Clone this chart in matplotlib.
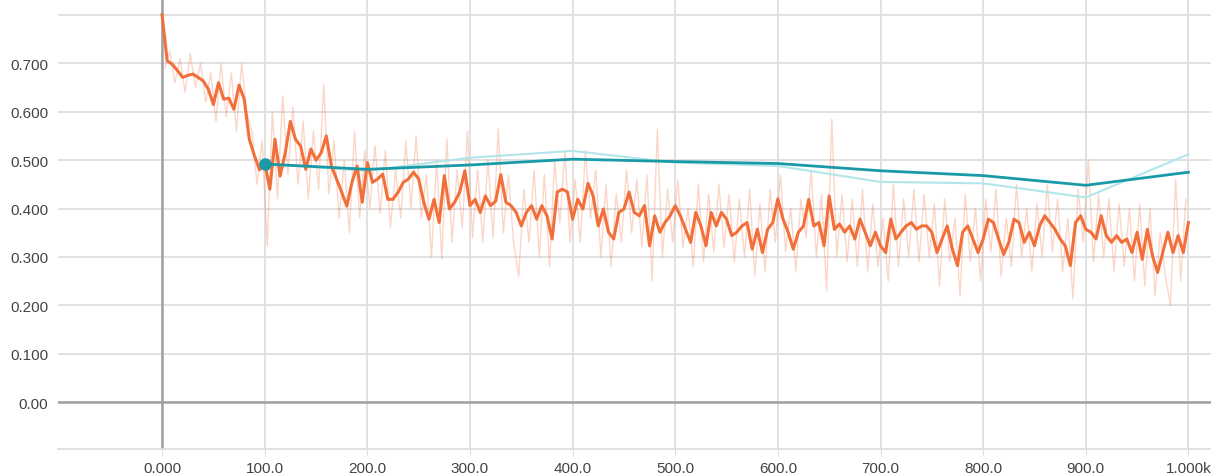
import numpy as np
import matplotlib
matplotlib.use("Agg")
import matplotlib.pyplot as plt

# training loss (orange): smoothed curve every 5 steps, raw samples in between
train_steps = np.arange(0, 1001, 5)
train_smooth = [
    0.800, 0.705, 0.698, 0.685, 0.671, 0.675, 0.678, 0.671, 0.664, 0.647,
    0.615, 0.660, 0.626, 0.628, 0.605, 0.655, 0.626, 0.543, 0.509, 0.480,
    0.495, 0.440, 0.543, 0.467, 0.515, 0.580, 0.543, 0.529, 0.481, 0.523,
    0.500, 0.515, 0.550, 0.488, 0.461, 0.434, 0.405, 0.454, 0.488, 0.413,
    0.495, 0.454, 0.461, 0.471, 0.419, 0.419, 0.434, 0.454, 0.461, 0.475,
    0.461, 0.413, 0.378, 0.419, 0.371, 0.468, 0.399, 0.413, 0.434, 0.478,
    0.406, 0.419, 0.392, 0.426, 0.406, 0.415, 0.470, 0.413, 0.406, 0.392,
    0.364, 0.392, 0.406, 0.378, 0.406, 0.385, 0.337, 0.434, 0.440, 0.434,
    0.378, 0.419, 0.399, 0.452, 0.426, 0.364, 0.399, 0.351, 0.337, 0.392,
    0.399, 0.434, 0.392, 0.385, 0.406, 0.323, 0.385, 0.351, 0.371, 0.385,
    0.406, 0.385, 0.357, 0.330, 0.392, 0.364, 0.323, 0.392, 0.364, 0.392,
    0.378, 0.344, 0.351, 0.364, 0.371, 0.316, 0.357, 0.309, 0.357, 0.371,
    0.420, 0.378, 0.351, 0.316, 0.351, 0.364, 0.419, 0.364, 0.371, 0.323,
    0.426, 0.357, 0.368, 0.351, 0.364, 0.337, 0.378, 0.351, 0.323, 0.351,
    0.323, 0.309, 0.378, 0.337, 0.351, 0.364, 0.371, 0.357, 0.364, 0.364,
    0.351, 0.309, 0.337, 0.364, 0.316, 0.282, 0.351, 0.364, 0.337, 0.309,
    0.337, 0.378, 0.371, 0.337, 0.305, 0.330, 0.378, 0.371, 0.330, 0.351,
    0.323, 0.364, 0.385, 0.371, 0.357, 0.337, 0.323, 0.282, 0.371, 0.385,
    0.357, 0.351, 0.337, 0.385, 0.344, 0.330, 0.344, 0.330, 0.337, 0.309,
    0.351, 0.295, 0.357, 0.302, 0.268, 0.309, 0.351, 0.309, 0.344, 0.309,
    0.371,
]
raw_steps = np.arange(2.5, 1000, 5)
train_raw = [
    0.690, 0.725, 0.660, 0.710, 0.640, 0.720, 0.650, 0.700, 0.620, 0.680,
    0.580, 0.700, 0.590, 0.680, 0.560, 0.700, 0.600, 0.560, 0.450, 0.540,
    0.322, 0.600, 0.420, 0.633, 0.470, 0.610, 0.450, 0.580, 0.420, 0.560,
    0.440, 0.657, 0.430, 0.540, 0.380, 0.500, 0.350, 0.560, 0.380, 0.520,
    0.400, 0.530, 0.390, 0.520, 0.360, 0.480, 0.380, 0.540, 0.400, 0.550,
    0.380, 0.470, 0.300, 0.500, 0.295, 0.543, 0.330, 0.480, 0.360, 0.560,
    0.340, 0.480, 0.330, 0.500, 0.340, 0.564, 0.350, 0.470, 0.330, 0.260,
    0.440, 0.330, 0.480, 0.300, 0.470, 0.280, 0.500, 0.370, 0.520, 0.330,
    0.460, 0.330, 0.520, 0.380, 0.480, 0.300, 0.450, 0.280, 0.430, 0.330,
    0.480, 0.350, 0.460, 0.320, 0.470, 0.250, 0.564, 0.300, 0.440, 0.330,
    0.460, 0.320, 0.400, 0.280, 0.450, 0.290, 0.430, 0.310, 0.450, 0.320,
    0.430, 0.290, 0.420, 0.300, 0.440, 0.260, 0.410, 0.270, 0.440, 0.330,
    0.470, 0.310, 0.400, 0.270, 0.420, 0.340, 0.480, 0.300, 0.430, 0.230,
    0.585, 0.300, 0.430, 0.290, 0.420, 0.280, 0.440, 0.270, 0.410, 0.280,
    0.380, 0.250, 0.450, 0.280, 0.420, 0.300, 0.440, 0.290, 0.430, 0.300,
    0.410, 0.240, 0.420, 0.290, 0.380, 0.220, 0.430, 0.290, 0.400, 0.250,
    0.420, 0.310, 0.440, 0.260, 0.380, 0.280, 0.450, 0.300, 0.400, 0.270,
    0.410, 0.300, 0.450, 0.310, 0.420, 0.270, 0.380, 0.213, 0.440, 0.330,
    0.500, 0.290, 0.430, 0.300, 0.420, 0.270, 0.410, 0.280, 0.400, 0.250,
    0.410, 0.240, 0.400, 0.220, 0.350, 0.260, 0.200, 0.460, 0.250, 0.420,
]

# eval loss (teal)
eval_steps = [100, 200, 300, 400, 500, 600, 700, 800, 900, 1000]
eval_smooth = [0.492, 0.481, 0.490, 0.502, 0.497, 0.493, 0.478, 0.468, 0.448, 0.475]
eval_raw = [0.492, 0.478, 0.505, 0.519, 0.495, 0.488, 0.455, 0.452, 0.423, 0.512]

xticks = [0, 100, 200, 300, 400, 500, 600, 700, 800, 900, 1000]
xticklabels = ["0.000", "100.0", "200.0", "300.0", "400.0", "500.0",
               "600.0", "700.0", "800.0", "900.0", "1.000k"]
yticks = [0.0, 0.1, 0.2, 0.3, 0.4, 0.5, 0.6, 0.7]
yticklabels = ["0.00", "0.100", "0.200", "0.300", "0.400", "0.500", "0.600", "0.700"]

plt.rcParams['font.family'] = ['Liberation Sans', 'DejaVu Sans']

fig = plt.figure(figsize=(12.11, 4.77), dpi=100)
ax = fig.add_axes([58 / 1211, 27 / 477, 1 - 58 / 1211, 450 / 477])

orange = "#f36f3a"
teal_dark = "#1a9aa6"
teal_light = "#b2e6eb"
grid_c = "#dedede"

ax.set_xlim(-101.4, 1022)
ax.set_ylim(-0.097, 0.833)

# grid
for x in xticks:
    ax.axvline(x, color=grid_c, lw=1.3, zorder=0)
for y in yticks + [0.8]:
    ax.axhline(y, color=grid_c, lw=1.3, zorder=0)
ax.axhline(0, color="#a0a0a0", lw=1.8, zorder=1)
ax.axvline(0, color="#a0a0a0", lw=1.8, zorder=1)

ax.plot(raw_steps, train_raw, color=orange, alpha=0.28, lw=1.0, zorder=2)
ax.plot(eval_steps, eval_raw, color=teal_light, lw=1.5, zorder=3)
ax.plot(train_steps, train_smooth, color=orange, lw=2.2, zorder=4)
ax.plot(eval_steps, eval_smooth, color=teal_dark, lw=2.0, zorder=5)
ax.plot(eval_steps[0], eval_smooth[0], "o", color=teal_dark, ms=8, zorder=6)

ax.set_xticks(xticks)
ax.set_xticklabels(xticklabels)
ax.set_yticks(yticks)
ax.set_yticklabels(yticklabels)
ax.tick_params(axis="x", length=5, color=grid_c, pad=4, labelsize=11, labelcolor="#444444")
ax.tick_params(axis="y", length=0, pad=7, labelsize=11, labelcolor="#444444")

for s in ["top", "right", "left"]:
    ax.spines[s].set_visible(False)
ax.spines["bottom"].set_color(grid_c)
ax.spines["bottom"].set_linewidth(1.3)
ax.set_facecolor("white")

fig.savefig("out.png", dpi=100)
